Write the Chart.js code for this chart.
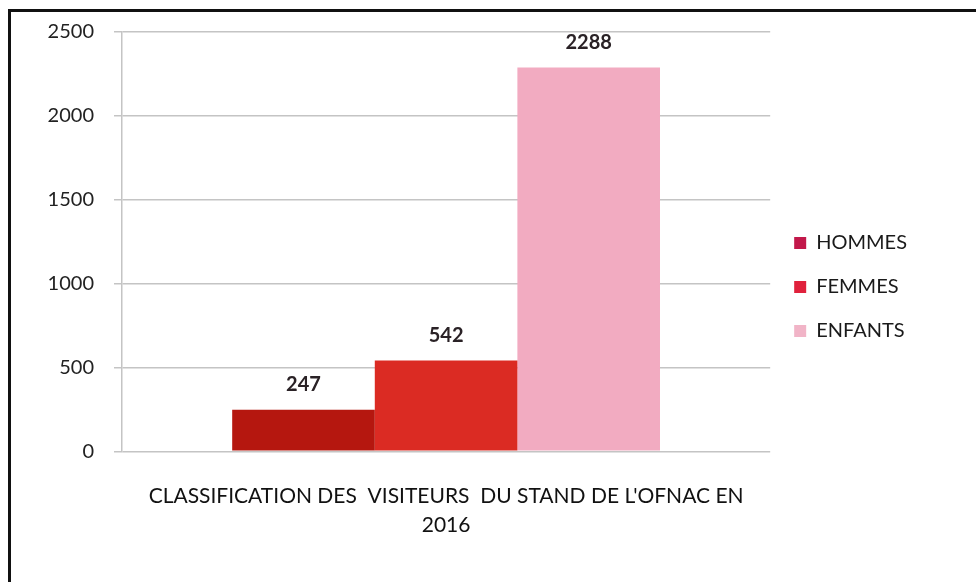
<!DOCTYPE html>
<html>
<head>
<meta charset="utf-8">
<script src="https://cdn.jsdelivr.net/npm/chart.js@4/dist/chart.umd.min.js"></script>
<style>
  html, body { margin: 0; padding: 0; background: #fff; }
  #wrap { position: relative; width: 976px; height: 582px; overflow: hidden; background: #fff; }
  #frame { position: absolute; left: 8px; top: 9px; width: 1000px; height: 600px;
           border-top: 3px solid #111; border-left: 3px solid #111; }
  canvas { position: absolute; left: 0; top: 0; }
</style>
</head>
<body>
<div id="wrap">
  <div id="frame"></div>
  <canvas id="c" width="976" height="582"></canvas>
</div>
<script>
const categories = [["CLASSIFICATION DES  VISITEURS  DU STAND DE L'OFNAC EN", "2016"]];
const seriesNames = ["HOMMES", "FEMMES", "ENFANTS"];
const hommes = [247];
const femmes = [542];
const enfants = [2288];
const yTicks = [0, 500, 1000, 1500, 2000, 2500];

const barColors = ["#b5170f", "#db2b23", "#f2abc1"];
const legendColors = ["#c2184a", "#e0213c", "#f1b4c7"];
const FONT = "Lato, 'Open Sans', sans-serif";

const valueLabels = {
  id: 'valueLabels',
  afterDatasetsDraw(chart) {
    const ctx = chart.ctx;
    ctx.save();
    ctx.font = "bold 20px " + FONT;
    ctx.fillStyle = "#2a2226";
    ctx.textAlign = "center";
    ctx.textBaseline = "bottom";
    chart.data.datasets.forEach((ds, i) => {
      const meta = chart.getDatasetMeta(i);
      meta.data.forEach((el, j) => {
        ctx.fillText(String(ds.data[j]), el.x, el.y - 15);
      });
    });
    ctx.restore();
  }
};

new Chart(document.getElementById('c'), {
  type: 'bar',
  data: {
    labels: categories,
    datasets: [
      { label: seriesNames[0], data: hommes, backgroundColor: barColors[0] },
      { label: seriesNames[1], data: femmes, backgroundColor: barColors[1] },
      { label: seriesNames[2], data: enfants, backgroundColor: barColors[2] }
    ]
  },
  options: {
    responsive: false,
    animation: false,
    devicePixelRatio: 1,
    layout: { padding: { left: 0, right: 59, top: 27, bottom: 20 } },
    datasets: { bar: { barPercentage: 1, categoryPercentage: 0.66 } },
    plugins: {
      tooltip: { enabled: false },
      legend: {
        position: 'right',
        align: 'start',
        afterFit(l) { l.width = 120; },
        title: { display: true, text: ' ', font: { size: 10 }, padding: { top: 0, bottom: 170 } },
        labels: {
          font: { family: FONT, size: 20 },
          color: "#1a1a1a",
          boxWidth: 12,
          boxHeight: 12,
          padding: 24,
          generateLabels(chart) {
            return chart.data.datasets.map((ds, i) => ({
              text: ds.label,
              fillStyle: legendColors[i],
              strokeStyle: legendColors[i],
              lineWidth: 0,
              hidden: false,
              datasetIndex: i,
              fontColor: "#1a1a1a"
            }));
          }
        }
      }
    },
    scales: {
      x: {
        grid: { display: false },
        border: { display: false },
        ticks: {
          font: { family: FONT, size: 21, lineHeight: 1.35 },
          color: "#111",
          padding: 23,
          maxRotation: 0
        }
      },
      y: {
        min: 0,
        max: 2500,
        afterFit(s) { s.width = 122; },
        afterBuildTicks(s) { s.ticks = yTicks.map(v => ({ value: v })); },
        grid: { color: "#c4c4c4", lineWidth: 1.5, tickLength: 8, drawTicks: true, tickColor: "#c4c4c4" },
        border: { display: true, color: "#c4c4c4", width: 1.5 },
        ticks: {
          font: { family: FONT, size: 20 },
          color: "#222",
          padding: 20,
          callback: (v) => String(v)
        }
      }
    }
  },
  plugins: [valueLabels]
});
</script>
</body>
</html>
